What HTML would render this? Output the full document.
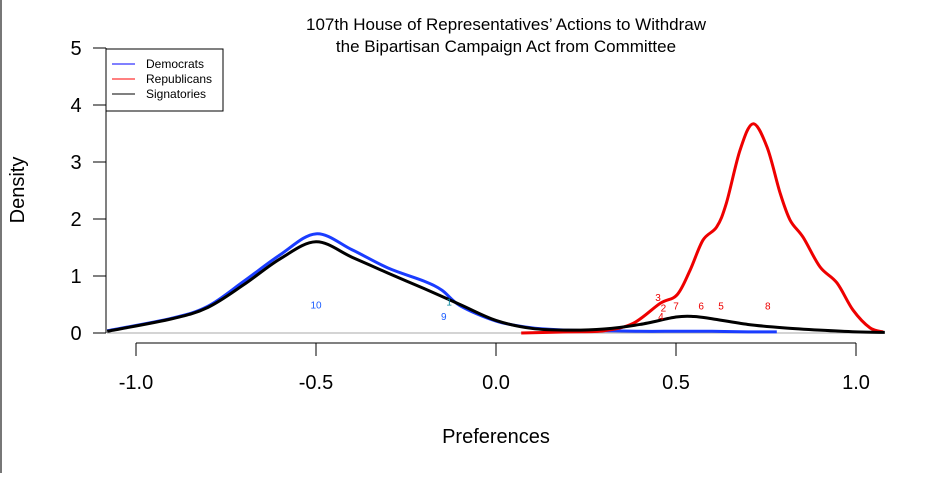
<!DOCTYPE html>
<html><head><meta charset="utf-8"><style>
body{margin:0;background:#fff;width:934px;height:473px;overflow:hidden;font-family:"Liberation Sans",Arial,sans-serif}
</style></head><body>
<svg id="c" width="934" height="473" font-family="Liberation Sans, Arial, sans-serif">
<rect x="0" y="0" width="2" height="473" fill="#777"/>
<text x="506" y="30" font-size="17" text-anchor="middle">107th House of Representatives’ Actions to Withdraw</text>
<text x="506" y="52" font-size="17" text-anchor="middle">the Bipartisan Campaign Act from Committee</text>
<text transform="translate(24,190) rotate(-90)" font-size="20" text-anchor="middle">Density</text>
<text x="496" y="443" font-size="20" text-anchor="middle">Preferences</text>
<g id="axes"></g>
<g id="marks"></g>
<g>
<rect x="106" y="49" width="117" height="62" fill="#fff" stroke="#000" stroke-width="1"/>
<line x1="112" y1="64" x2="135" y2="64" stroke="#0000ff"/>
<text x="146" y="68" font-size="12">Democrats</text>
<line x1="112" y1="79" x2="135" y2="79" stroke="#ff0000"/>
<text x="146" y="83" font-size="12">Republicans</text>
<line x1="112" y1="94" x2="135" y2="94" stroke="#000"/>
<text x="146" y="98" font-size="12">Signatories</text>
</g>
</svg>
<script>
const xTicks=[-1.0,-0.5,0.0,0.5,1.0];
const xTickLabels=["-1.0","-0.5","0.0","0.5","1.0"];
const yTicks=[0,1,2,3,4,5];
const demX=[-1.08,-0.9,-0.8,-0.7,-0.6,-0.5,-0.4,-0.3,-0.2,-0.15,-0.1,0,0.1,0.2,0.3,0.4,0.5,0.6,0.7,0.78];
const demY=[0.04,0.26,0.47,0.91,1.37,1.74,1.46,1.14,0.91,0.75,0.48,0.21,0.09,0.05,0.04,0.03,0.03,0.03,0.02,0.02];
const sigX=[-1.08,-0.9,-0.8,-0.7,-0.6,-0.5,-0.4,-0.3,-0.2,-0.1,0,0.1,0.2,0.3,0.4,0.5,0.55,0.6,0.7,0.8,0.9,1.0,1.08];
const sigY=[0.03,0.25,0.45,0.85,1.3,1.6,1.33,1.05,0.78,0.5,0.22,0.08,0.05,0.07,0.15,0.28,0.29,0.25,0.15,0.09,0.05,0.02,0.01];
const repX=[0.07,0.2,0.3,0.381,0.456,0.503,0.539,0.575,0.613,0.64,0.678,0.714,0.753,0.789,0.817,0.853,0.9,0.947,0.992,1.039,1.075];
const repY=[0.0,0.02,0.04,0.17,0.52,0.67,1.1,1.63,1.86,2.28,3.21,3.67,3.26,2.46,1.98,1.68,1.16,0.88,0.4,0.09,0.02];
const demLabels=["10","1","9"];
const demLabelX=[-0.5,-0.13,-0.145];
const demLabelY=[0.5,0.55,0.3];
const repLabels=["3","2","4","7","6","5","8"];
const repLabelX=[0.45,0.465,0.458,0.5,0.57,0.625,0.755];
const repLabelY=[0.63,0.45,0.3,0.48,0.48,0.48,0.48];

const NS="http://www.w3.org/2000/svg";
const X=v=>496+v*360, Y=v=>333-v*57;
const axes=document.getElementById('axes'), marks=document.getElementById('marks');
function mk(tag,attrs,parent){const e=document.createElementNS(NS,tag);for(const k in attrs)e.setAttribute(k,attrs[k]);parent.appendChild(e);return e;}
let e=mk('line',{x1:107,y1:333,x2:885,y2:333,stroke:'#aaa'},axes);


e=mk('line',{x1:106,y1:Y(5),x2:106,y2:Y(0),stroke:'#000'},axes);


yTicks.forEach(t=>{
 let l=mk('line',{x1:93,y1:Y(t),x2:106,y2:Y(t),stroke:'#000'},axes);
 
 
 let tx=mk('text',{x:76,y:Y(t)+7,'font-size':20,'text-anchor':'middle'},axes);tx.textContent=t;
 
 
});
e=mk('line',{x1:X(xTicks[0]),y1:343,x2:X(xTicks[xTicks.length-1]),y2:343,stroke:'#000'},axes);


xTicks.forEach((t,i)=>{
 let l=mk('line',{x1:X(t),y1:343,x2:X(t),y2:356,stroke:'#000'},axes);
 
 
 let tx=mk('text',{x:X(t),y:389,'font-size':20,'text-anchor':'middle'},axes);tx.textContent=xTickLabels[i];
 
 
});
function path(xs,ys){
 const p=xs.map((x,i)=>[X(x),Y(ys[i])]);
 let d='M'+p[0][0]+','+p[0][1];
 for(let i=0;i<p.length-1;i++){
  const p0=p[i-1]||p[i],p1=p[i],p2=p[i+1],p3=p[i+2]||p2;
  const c1=[p1[0]+(p2[0]-p0[0])/6,p1[1]+(p2[1]-p0[1])/6];
  const c2=[p2[0]-(p3[0]-p1[0])/6,p2[1]-(p3[1]-p1[1])/6];
  d+=` C${c1[0]},${c1[1]} ${c2[0]},${c2[1]} ${p2[0]},${p2[1]}`;
 }
 return d;
}
e=mk('path',{d:path(demX,demY),fill:'none',stroke:'#1a3cff','stroke-width':3},marks);


e=mk('path',{d:path(repX,repY),fill:'none',stroke:'#ee0000','stroke-width':3},marks);


e=mk('path',{d:path(sigX,sigY),fill:'none',stroke:'#000','stroke-width':3},marks);


demLabels.forEach((s,i)=>{
 let t=mk('text',{x:X(demLabelX[i]),y:Y(demLabelY[i])+4,'font-size':10,'text-anchor':'middle',fill:i==1?'#0a8aa0':'#1a5cff'},marks);t.textContent=s;
 
 
});
repLabels.forEach((s,i)=>{
 let t=mk('text',{x:X(repLabelX[i]),y:Y(repLabelY[i])+4,'font-size':10,'text-anchor':'middle',fill:'#ee0000'},marks);t.textContent=s;
 
 
});
</script>
</body></html>
